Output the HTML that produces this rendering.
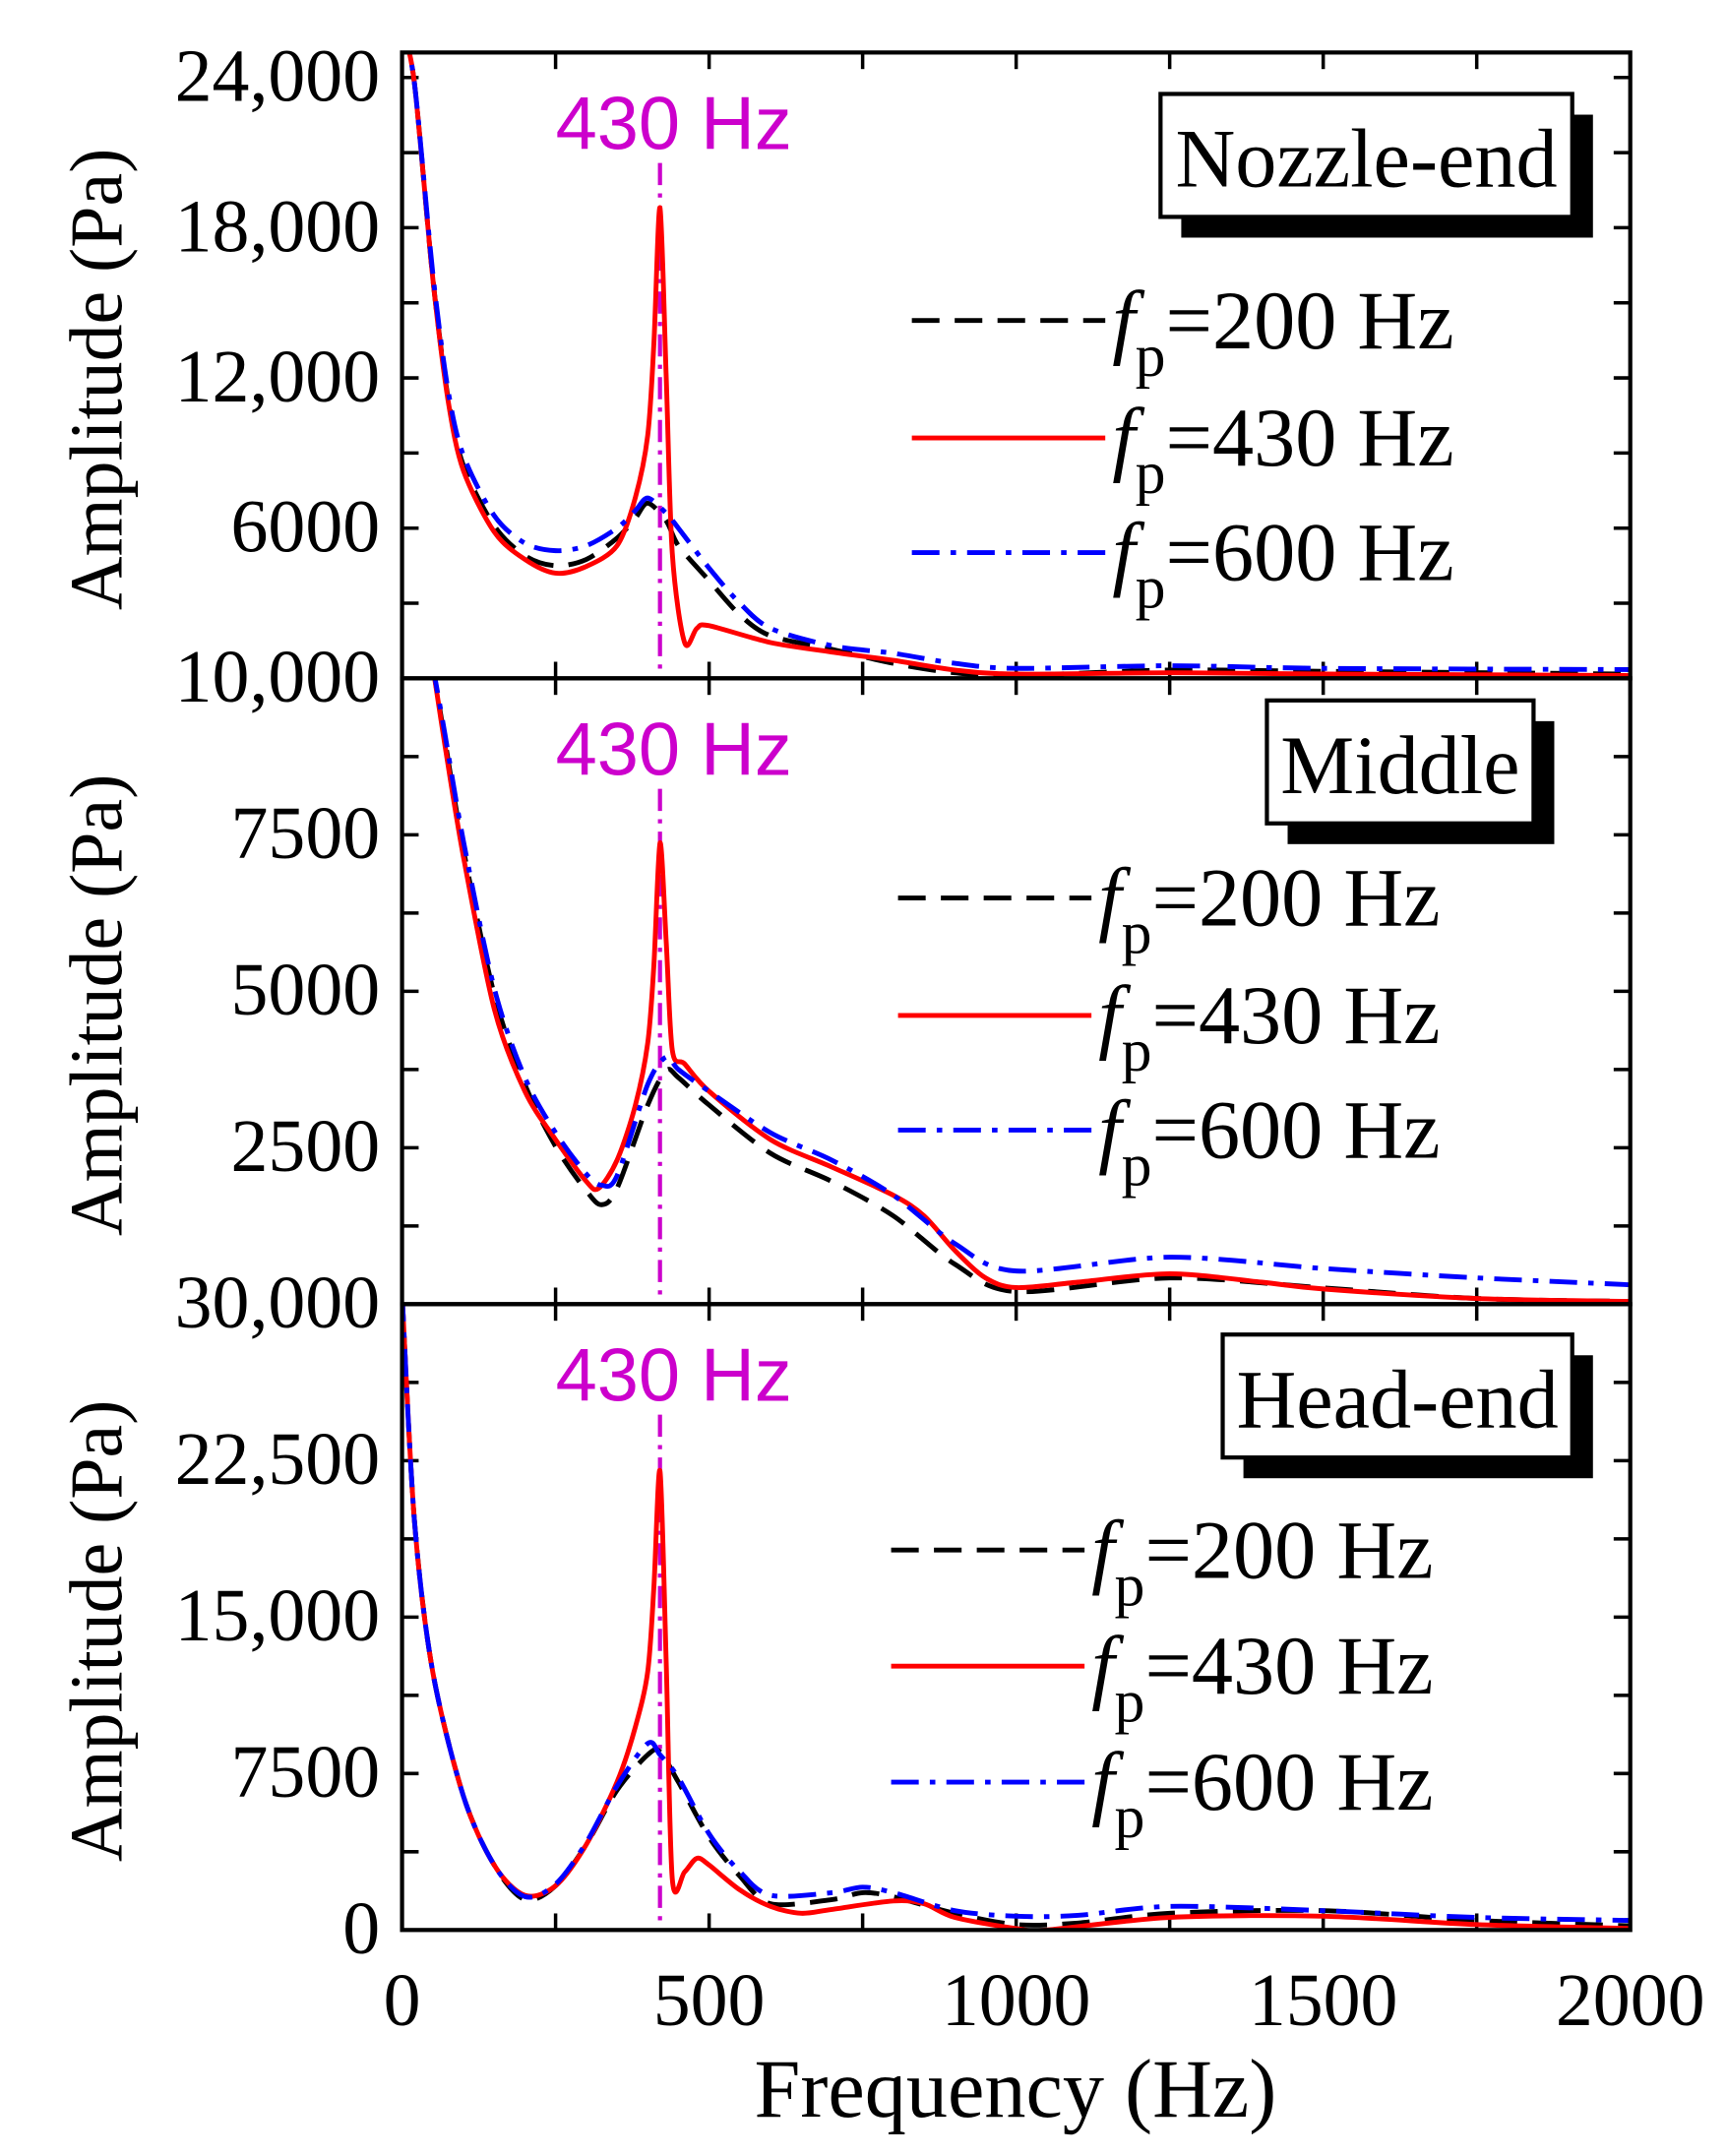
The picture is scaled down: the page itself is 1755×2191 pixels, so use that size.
<!DOCTYPE html>
<html><head><meta charset="utf-8"><style>
html,body{margin:0;padding:0;background:#fff;}
svg{display:block;}
text{font-family:"Liberation Serif",serif;}
</style></head><body>
<svg id="chart" width="1755" height="2191" viewBox="0 0 1250 1560.6" xmlns="http://www.w3.org/2000/svg">
<g id="layer"></g>
</svg>
<script>
// ---- data ----
const freqs1 = [0,20,50,75,100,150,200,250,300,350,380,400,410,420,430,440,460,480,500,600,700,800,900,1000,1250,1500,2000];
const nozzleRed = [26000,23800,16000,11100,8300,5850,4750,4200,4470,5300,7230,9700,13300,18800,12200,5000,1430,2000,2100,1430,1050,720,330,170,220,170,110];
const freqs1b = [0,20,50,75,100,150,200,250,300,350,380,400,430,450,500,550,600,700,800,900,1000,1250,1500,2000];
const nozzleBlack = [26000,23800,16000,11200,8500,6100,4900,4500,4750,5600,6400,7000,6300,5300,3900,2540,1700,1160,600,220,110,330,280,170];
const nozzleBlue = [26000,23800,16200,11500,8900,6500,5400,5100,5300,6000,6700,7200,6600,6000,4400,3000,2000,1300,1000,600,400,500,400,350];

const freqs2 = [50,70,100,150,200,250,300,320,350,380,400,410,420,430,440,460,500,600,700,800,850,900,950,1000,1100,1250,1400,1500,1750,2000];
const middleRed = [10200,8920,7150,4720,3400,2630,1960,1850,2300,3180,4170,5390,7370,5830,4060,3840,3400,2630,2190,1740,1410,860,420,265,350,485,350,243,90,45];
const freqs2b = [50,70,100,150,200,250,300,325,350,400,430,450,500,600,700,800,900,1000,1250,1500,1750,2000];
const middleBlack = [10200,9000,7260,4950,3510,2520,1810,1590,1850,3180,3730,3620,3180,2410,1960,1410,640,200,420,260,90,45];
const middleBlue = [10200,9100,7400,5050,3620,2740,2080,1900,2050,3510,3950,3750,3400,2740,2300,1740,970,530,750,570,420,310];

const freqs3 = [0,20,50,100,150,200,250,300,350,380,400,410,420,430,440,460,480,500,550,600,650,700,800,850,900,1000,1050,1250,1500,1750,2000];
const headRed = [30500,19670,12380,6420,3110,1660,2120,4100,7090,9740,12380,16360,22000,13050,2450,2780,3440,3110,1920,1130,800,990,1390,1260,600,70,0,600,660,260,70];
const freqs3b = [0,20,50,100,150,200,250,300,350,400,420,450,500,550,600,700,750,800,900,1000,1100,1250,1500,1750,2000];
const headBlack = [30500,19670,12380,6420,3110,1460,2120,4100,6700,8400,8540,7090,4440,2580,1260,1460,1790,1590,800,260,330,800,930,460,200];
const headBlue = [30500,19670,12380,6420,3110,1600,2200,4200,6900,8940,8400,7300,4600,2800,1660,1790,2050,1790,930,660,700,1130,930,600,460];

const xTicks = [0,500,1000,1500,2000];
const panelNames = ["Nozzle-end","Middle","Head-end"];
const yMaxes = [25000,10000,30000];
const yTickVals = [[6000,12000,18000,24000],[2500,5000,7500,10000],[0,7500,15000,22500,30000]];
const yTickText = [["6000","12,000","18,000","24,000"],["2500","5000","7500","10,000"],["0","7500","15,000","22,500","30,000"]];
const legendText = ["=200 Hz","=430 Hz","=600 Hz"];
const markerFreq = 420;

// ---- layout ----
const NS="http://www.w3.org/2000/svg";
const L=291,R=1180;
const panelTops=[38,491,944], panelH=453;
const g=document.getElementById('layer');
function el(tag,attrs,parent){const e=document.createElementNS(NS,tag);for(const k in attrs)e.setAttribute(k,attrs[k]);(parent||g).appendChild(e);return e;}
const xs=f=>L+(f/2000)*(R-L);
function ys(p,v){const bot=panelTops[p]+panelH;return bot-(Math.min(v,yMaxes[p]*1.05)/yMaxes[p])*panelH;}
function smoothPath(pts){
  let d='M'+pts[0][0].toFixed(1)+','+pts[0][1].toFixed(1);
  for(let i=0;i<pts.length-1;i++){
    const p0=pts[Math.max(0,i-1)],p1=pts[i],p2=pts[i+1],p3=pts[Math.min(pts.length-1,i+2)];
    const t=0.15;
    const c1=[p1[0]+(p2[0]-p0[0])*t,p1[1]+(p2[1]-p0[1])*t];
    const c2=[p2[0]-(p3[0]-p1[0])*t,p2[1]-(p3[1]-p1[1])*t];
    d+=` C${c1[0].toFixed(1)},${c1[1].toFixed(1)} ${c2[0].toFixed(1)},${c2[1].toFixed(1)} ${p2[0].toFixed(1)},${p2[1].toFixed(1)}`;
  }
  return d;
}

const series=[
 [[freqs1b,nozzleBlack],[freqs1,nozzleRed],[freqs1b,nozzleBlue]],
 [[freqs2b,middleBlack],[freqs2,middleRed],[freqs2b,middleBlue]],
 [[freqs3b,headBlack],[freqs3,headRed],[freqs3b,headBlue]]
];
const colors=["#000","#f00","#00f"];
const dashes=["20,11","", "20,8,4,8"];
const sNames=["fp-200hz","fp-430hz","fp-600hz"];
const legX=[660,650,645], legY=[[232,317,400],[650,735,818],[1122,1206,1290]];
const boxes=[[840,68,298,89],[917,507,193,89],[885,966,253,89]];

for(let p=0;p<3;p++){
  const top=panelTops[p], bot=top+panelH;
  const pg=el('g',{});
  
  
  const clipId='clip'+p;
  const cp=el('clipPath',{id:clipId},pg); el('rect',{x:L,y:top,width:R-L,height:panelH},cp);
  for(let f=0;f<=2000;f+=250){
    const x=xs(f);
    el('line',{x1:x,y1:bot,x2:x,y2:bot-12,stroke:'#000','stroke-width':2.5},pg);
    el('line',{x1:x,y1:top,x2:x,y2:top+12,stroke:'#000','stroke-width':2.5},pg);
  }
  const step=yTickVals[p][yTickVals[p].length-1]/8;
  for(let v=step;v<yMaxes[p];v+=step){
    const y=ys(p,v);
    el('line',{x1:L,y1:y,x2:L+12,y2:y,stroke:'#000','stroke-width':2.5},pg);
    el('line',{x1:R,y1:y,x2:R-12,y2:y,stroke:'#000','stroke-width':2.5},pg);
  }
  yTickVals[p].forEach((v,i)=>{
    const t=el('text',{x:275,y:ys(p,v)+17,'text-anchor':'end','font-size':54},pg);
    t.textContent=yTickText[p][i];
    
    
  });
  const yt=el('text',{x:0,y:0,'text-anchor':'middle','font-size':54,transform:`translate(88,${top+panelH/2+10}) rotate(-90)`},pg);
  yt.textContent='Amplitude (Pa)';
  
  
  const ml=el('line',{x1:xs(markerFreq),y1:top+80,x2:xs(markerFreq),y2:bot,stroke:'#c0c',"stroke-width":3,'stroke-dasharray':'16,6,3,6'},pg);
  
  
  const mt=el('text',{x:xs(markerFreq)+10,y:top+70,'text-anchor':'middle','font-size':54,fill:'#c0c',style:'font-family:"Liberation Sans",sans-serif'},pg);
  mt.textContent='430 Hz';
  
  
  series[p].forEach((s,i)=>{
    const [fx,vy]=s;
    const pts=fx.map((f,k)=>[xs(f),ys(p,vy[k])]);
    const path=el('path',{d:smoothPath(pts),fill:'none',stroke:colors[i],'stroke-width':3.5,'stroke-linejoin':'round','clip-path':`url(#${clipId})`},pg);
    if(dashes[i])path.setAttribute('stroke-dasharray',dashes[i]);
    
    
  });
  el('rect',{x:L,y:top,width:R-L,height:panelH,fill:'none',stroke:'#000','stroke-width':3},pg);
  const b=boxes[p];
  el('rect',{x:b[0]+15,y:b[1]+15,width:b[2],height:b[3],fill:'#000'},pg);
  const br=el('rect',{x:b[0],y:b[1],width:b[2],height:b[3],fill:'#fff',stroke:'#000','stroke-width':3},pg);
  
  
  const bt=el('text',{x:b[0]+b[2]/2,y:b[1]+67,'text-anchor':'middle','font-size':60},pg);
  bt.textContent=panelNames[p];
  
  
  for(let i=0;i<3;i++){
    const lg=el('g',{},pg);
    
    
    const y=legY[p][i];
    const ln=el('line',{x1:legX[p],y1:y,x2:legX[p]+140,y2:y,stroke:colors[i],'stroke-width':3.5},lg);
    if(dashes[i])ln.setAttribute('stroke-dasharray',dashes[i]);
    const tx=el('text',{x:legX[p]+145,y:y+20,'font-size':60},lg);
    const t1=el('tspan',{'font-style':'italic'},tx); t1.textContent='f';
    const t2=el('tspan',{dy:20,'font-size':44},tx); t2.textContent='p';
    const t3=el('tspan',{dy:-20},tx); t3.textContent=legendText[i];
  }
}
xTicks.forEach(f=>{
  const t=el('text',{x:xs(f),y:1466,'text-anchor':'middle','font-size':54});
  t.textContent=String(f);
  
  
});
const xt=el('text',{x:735,y:1532,'text-anchor':'middle','font-size':60});
xt.textContent='Frequency (Hz)';


</script>
</body></html>
